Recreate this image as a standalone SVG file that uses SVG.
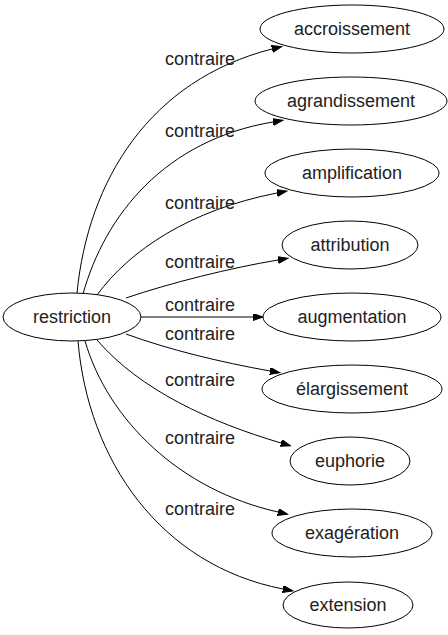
<svg xmlns="http://www.w3.org/2000/svg" width="448" height="635" viewBox="0 0 448 635">
<style>
.n ellipse{fill:#fff;stroke:#000;stroke-width:1}
text{font-family:"Liberation Sans",Arial,sans-serif;font-size:18px;fill:#222;text-anchor:middle}
.e path{fill:none;stroke:#000;stroke-width:1}
</style>
<defs>
<marker id="a" markerUnits="userSpaceOnUse" markerWidth="11" markerHeight="8" refX="0" refY="3.5" orient="auto">
<path d="M0,0 L10,3.5 L0,7 z" fill="#000" stroke="#000"/>
</marker>
</defs>
<rect width="448" height="635" fill="#fff"/>
<g id="edges" class="e">
<path d="M77,293 C88,180 150,80 272,49" marker-end="url(#a)"/>
<path d="M83,294 C105,215 165,140 273,122" marker-end="url(#a)"/>
<path d="M97,295 C130,250 190,210 277,193" marker-end="url(#a)"/>
<path d="M126,298 C170,283 230,268 278,260" marker-end="url(#a)"/>
<path d="M141,317 L253,317" marker-end="url(#a)"/>
<path d="M126,334 C170,350 220,362 270,371" marker-end="url(#a)"/>
<path d="M97,340 C140,390 210,422 281,443" marker-end="url(#a)"/>
<path d="M85,341 C108,420 180,490 278,512" marker-end="url(#a)"/>
<path d="M78,341 C88,460 160,565 283,589" marker-end="url(#a)"/>
<text x="200" y="65">contraire</text>
<text x="200" y="137">contraire</text>
<text x="200" y="209">contraire</text>
<text x="200" y="268">contraire</text>
<text x="200" y="311">contraire</text>
<text x="200" y="340">contraire</text>
<text x="200" y="386">contraire</text>
<text x="200" y="444">contraire</text>
<text x="200" y="515">contraire</text>
</g>
<g id="restriction" class="n"><ellipse cx="72" cy="317" rx="69" ry="24"/><text x="72" y="323">restriction</text></g>
<g id="accroissement" class="n"><ellipse cx="352" cy="29" rx="92" ry="24"/><text x="352" y="35">accroissement</text></g>
<g id="agrandissement" class="n"><ellipse cx="351" cy="101" rx="96" ry="24"/><text x="351" y="107">agrandissement</text></g>
<g id="amplification" class="n"><ellipse cx="352" cy="173" rx="87" ry="24"/><text x="352" y="179">amplification</text></g>
<g id="attribution" class="n"><ellipse cx="350" cy="245" rx="68" ry="24"/><text x="350" y="251">attribution</text></g>
<g id="augmentation" class="n"><ellipse cx="352" cy="317" rx="89" ry="24"/><text x="352" y="323">augmentation</text></g>
<g id="elargissement" class="n"><ellipse cx="352" cy="389" rx="90" ry="24"/><text x="352" y="395">élargissement</text></g>
<g id="euphorie" class="n"><ellipse cx="350" cy="461" rx="60" ry="24"/><text x="350" y="467">euphorie</text></g>
<g id="exageration" class="n"><ellipse cx="352" cy="533" rx="80" ry="24"/><text x="352" y="539">exagération</text></g>
<g id="extension" class="n"><ellipse cx="348" cy="605" rx="65" ry="23"/><text x="348" y="611">extension</text></g>
</svg>
